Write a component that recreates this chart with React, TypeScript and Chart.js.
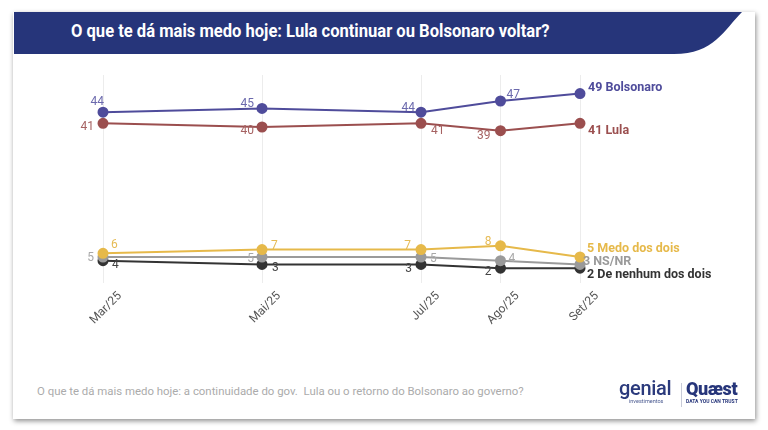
import { useEffect, useRef } from "react";
import { Chart, registerables } from "chart.js";

Chart.register(...registerables);

// survey rounds (month number used for spacing on the x axis)
const monthLabels = ["Mar/25", "Mai/25", "Jul/25", "Ago/25", "Set/25"];
const monthNumbers = [3, 5, 7, 8, 9];

const bolsonaro = [44, 45, 44, 47, 49];
const lula = [41, 40, 41, 39, 41];
const medoDosDois = [6, 7, 7, 8, 5];
const nsnr = [5, 5, 5, 4, 3];
const nenhum = [4, 3, 3, 2, 2];

const seriesNames = ["Bolsonaro", "Lula", "Medo dos dois", "NS/NR", "De nenhum dos dois"];
const seriesValues = [bolsonaro, lula, medoDosDois, nsnr, nenhum];
const lineColors = ["#4f4c9b", "#9b4f4f", "#e6b94a", "#9a9a9a", "#333333"];
const labelColors = ["#6b69ad", "#a66262", "#e6bb55", "#a8a8a8", "#444444"];

// where each value label sits relative to its point: [dx, dy, align]
type Place = [number, number, CanvasTextAlign];
const labelPlaces: Place[][] = [
  [[1, -10, "right"], [-8, -4, "right"], [-6, -4, "right"], [6, -6, "left"]],
  [[-9, 4, "right"], [-8, 4, "right"], [10, 8, "left"], [-10, 5, "right"]],
  [[8, -8, "left"], [9, -4, "left"], [-10, -4, "right"], [-9, -4, "right"]],
  [[-9, 1, "right"], [-8, 2, "right"], [9, 2, "left"], [8, -2, "left"]],
  [[9, 4, "left"], [10, 4, "left"], [-9, 5, "right"], [-9, 4, "right"]],
];
const endPlaces: [number, number][] = [
  [8, -6],
  [8, 8],
  [7, -8],
  [3, -3],
  [7, 7],
];

const valueLabels = {
  id: "valueLabels",
  afterDatasetsDraw(chart: Chart) {
    const ctx = chart.ctx;
    ctx.save();
    ctx.textBaseline = "middle";
    chart.data.datasets.forEach((ds, i) => {
      const meta = chart.getDatasetMeta(i);
      const vals = seriesValues[i];
      meta.data.forEach((pt, j) => {
        if (j === vals.length - 1) {
          ctx.font = "bold 12.5px Roboto, 'Liberation Sans', sans-serif";
          ctx.fillStyle = lineColors[i];
          ctx.textAlign = "left";
          ctx.fillText(`${vals[j]} ${seriesNames[i]}`, pt.x + endPlaces[i][0], pt.y + endPlaces[i][1]);
        } else {
          const [dx, dy, align] = labelPlaces[i][j];
          ctx.font = "12px Roboto, 'Liberation Sans', sans-serif";
          ctx.fillStyle = labelColors[i];
          ctx.textAlign = align;
          ctx.fillText(String(vals[j]), pt.x + dx, pt.y + dy);
        }
      });
    });
    ctx.restore();
  },
};

const LineChart = () => {
  const chartRef = useRef<HTMLCanvasElement>(null);
  const chartInstance = useRef<Chart | null>(null);

  useEffect(() => {
    if (!chartRef.current) return;
    const ctx = chartRef.current.getContext("2d");
    if (!ctx) return;

    chartInstance.current = new Chart(ctx, {
      type: "line",
      data: {
        datasets: seriesValues.map((vals, i) => ({
          label: seriesNames[i],
          data: vals.map((v, j) => ({ x: monthNumbers[j], y: v })),
          borderColor: lineColors[i],
          backgroundColor: lineColors[i],
          borderWidth: 2,
          pointRadius: 4.5,
          pointHoverRadius: 4.5,
          tension: 0,
          clip: false as any,
        })),
      },
      options: {
        animation: false,
        responsive: false,
        maintainAspectRatio: false,
        layout: { padding: { left: 103, right: 188, top: 15, bottom: 37 } },
        plugins: { legend: { display: false }, tooltip: { enabled: false } },
        scales: {
          x: {
            type: "linear",
            min: 3,
            max: 9,
            afterBuildTicks: (scale: any) => {
              scale.ticks = monthNumbers.map((v) => ({ value: v }));
            },
            afterFit: (scale: any) => {
              scale.height = 60;
            },
            grid: { color: "#ececec", drawTicks: false, lineWidth: 1 },
            border: { display: false },
            ticks: {
              autoSkip: false,
              minRotation: 45,
              maxRotation: 45,
              padding: 6,
              labelOffset: 17,
              color: "#555555",
              font: { family: "Roboto, 'Liberation Sans', sans-serif", size: 12 },
              callback: (v: any) => monthLabels[monthNumbers.indexOf(Number(v))] ?? "",
            },
          },
          y: {
            display: false,
            min: -2,
            max: 54,
          },
        },
      },
      plugins: [valueLabels],
    });

    return () => {
      if (chartInstance.current) {
        chartInstance.current.destroy();
        chartInstance.current = null;
      }
    };
  }, []);

  return (
    <canvas
      ref={chartRef}
      width={768}
      height={320}
      style={{ position: "absolute", left: 0, top: 60, width: 768, height: 320 }}
    />
  );
};

export default function App() {
  useEffect(() => {
    document.body.style.margin = "0";
  }, []);

  return (
    <div style={{ position: "relative", width: 768, height: 430, background: "#ffffff", overflow: "hidden" }}>
      <div
        style={{
          position: "absolute",
          left: 13,
          top: 12,
          width: 742,
          height: 407,
          background: "#ffffff",
          boxShadow: "1px 2px 5px rgba(0,0,0,0.45)",
        }}
      />
      <svg width={768} height={60} style={{ position: "absolute", left: 0, top: 0 }}>
        <path d="M14 12 L742 12 C724 30 714 54 674 54 L14 54 Z" fill="#26357a" />
      </svg>
      <div
        style={{
          position: "absolute",
          left: 71,
          top: 20,
          color: "#ffffff",
          fontFamily: "Roboto, sans-serif",
          fontWeight: 700,
          fontSize: 18,
          lineHeight: "22px",
          whiteSpace: "nowrap",
          transform: "scaleX(0.92)",
          transformOrigin: "left center",
        }}
      >
        O que te dá mais medo hoje: Lula continuar ou Bolsonaro voltar?
      </div>
      <LineChart />
      <div
        style={{
          position: "absolute",
          left: 37,
          top: 384,
          color: "#ababab",
          fontFamily: "Roboto, sans-serif",
          fontSize: 11.4,
          lineHeight: "14px",
          whiteSpace: "nowrap",
        }}
      >
        O que te dá mais medo hoje: a continuidade do gov.&nbsp; Lula ou o retorno do Bolsonaro ao governo?
      </div>
      <div style={{ position: "absolute", left: 619, top: 379, fontFamily: "Roboto, sans-serif", color: "#2b3a7c" }}>
        <div style={{ fontSize: 20, lineHeight: "19px", fontWeight: 500, letterSpacing: -0.3 }}>genial</div>
        <div style={{ fontSize: 5.5, lineHeight: "7px", marginLeft: 10, color: "#4a5a90" }}>investimentos</div>
      </div>
      <div style={{ position: "absolute", left: 681, top: 383, width: 1, height: 24, background: "#c8cbd8" }} />
      <div style={{ position: "absolute", left: 686, top: 379, fontFamily: "Roboto, sans-serif", color: "#26357a" }}>
        <div style={{ fontSize: 18, lineHeight: "19px", fontWeight: 900, letterSpacing: -0.4 }}>Quæst</div>
        <div style={{ fontSize: 5, lineHeight: "7px", fontWeight: 700 }}>DATA YOU CAN TRUST</div>
      </div>
    </div>
  );
}
